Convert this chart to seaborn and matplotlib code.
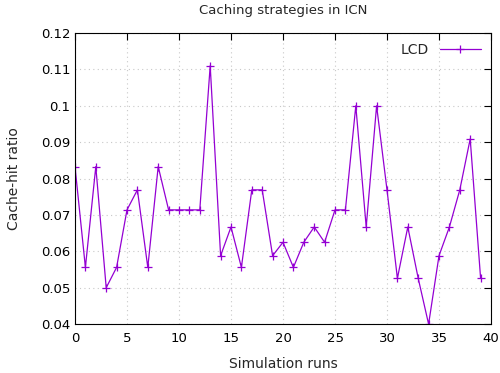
import matplotlib
matplotlib.use("Agg")
import matplotlib.pyplot as plt
import seaborn as sns
import pandas as pd
from matplotlib.ticker import FuncFormatter, MultipleLocator

runs = list(range(40))
hit_ratio = [0.0833, 0.0556, 0.0833, 0.05, 0.0556, 0.0714, 0.0769, 0.0556, 0.0833, 0.0714,
             0.0714, 0.0714, 0.0714, 0.111, 0.0588, 0.0667, 0.0556, 0.0769, 0.0769, 0.0588,
             0.0625, 0.0556, 0.0625, 0.0667, 0.0625, 0.0714, 0.0714, 0.1, 0.0667, 0.1,
             0.0769, 0.0526, 0.0667, 0.0526, 0.04, 0.0588, 0.0667, 0.0769, 0.0909, 0.0526]
series_name = "LCD"

df = pd.DataFrame({"run": runs, "ratio": hit_ratio, "series": series_name})

sns.set_style("white")
plt.rcParams['font.family'] = ['DejaVu Sans']
fig = plt.figure(figsize=(5, 3.73), dpi=100)
ax = fig.add_axes([0.15, 0.131, 0.832, 0.7805])
color = "#9400D3"
sns.lineplot(data=df, x="run", y="ratio", hue="series", palette=[color], marker="+",
             markersize=6, markeredgewidth=0.9, markeredgecolor=color, markerfacecolor=color,
             linewidth=0.9, ax=ax, legend=False)
ax.plot([], [], color=color, marker="+", markersize=6, markeredgewidth=0.9, lw=0.9, label=series_name)

ax.set_xlim(0, 40)
ax.set_ylim(0.04, 0.12)
ax.xaxis.set_major_locator(MultipleLocator(5))
ax.yaxis.set_major_locator(MultipleLocator(0.01))
ax.yaxis.set_major_formatter(FuncFormatter(lambda v, p: "%g" % round(v, 4)))
ax.tick_params(direction="in", top=True, right=True, length=5, width=0.8, labelsize=9.5, colors="black")
ax.tick_params(axis="x", pad=6)
ax.grid(True, color="#c8c8c8", linestyle=(0, (1, 3)), linewidth=0.8)
for s in ax.spines.values():
    s.set_color("black")
    s.set_linewidth(0.8)
ax.set_xlabel("Simulation runs", fontsize=10, labelpad=8)
ax.set_ylabel("Cache-hit ratio", fontsize=10, labelpad=14)
ax.set_title("Caching strategies in ICN", fontsize=9.5, pad=14)
leg = ax.legend(loc="upper right", frameon=False, markerfirst=False, fontsize=10,
                handlelength=3, borderaxespad=0.3)
fig.savefig("out.png", dpi=100)
